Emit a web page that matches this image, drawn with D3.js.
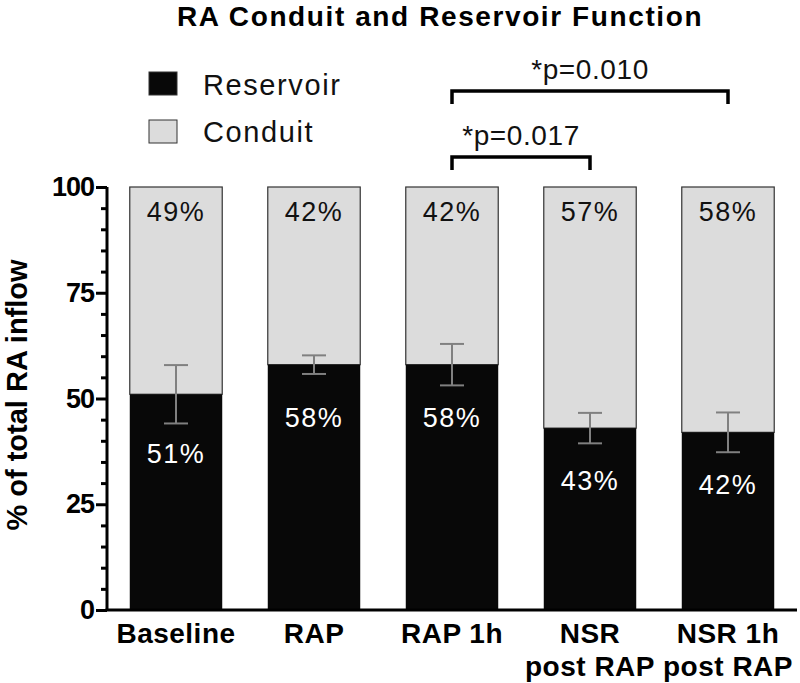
<!DOCTYPE html>
<html>
<head>
<meta charset="utf-8">
<title>RA Conduit and Reservoir Function</title>
<script src="https://d3js.org/d3.v7.min.js"></script>
<style>
  body { margin: 0; background: #fff; }
  text { font-family: "Liberation Sans", Arial, sans-serif; }
</style>
</head>
<body>
<div id="chart"></div>
<script>
  // data
  let groups = [["Baseline"], ["RAP"], ["RAP 1h"], ["NSR", "post RAP"], ["NSR 1h", "post RAP"]];
  let reservoir = [51, 58, 58, 43, 42];
  let conduit = [49, 42, 42, 57, 58];
  let reservoirErr = [6.9, 2.2, 4.9, 3.6, 4.7];
  let yTicks = [0, 25, 50, 75, 100];
  let comparisons = [
    {from: 2, to: 4, label: "*p=0.010", level: 122.7},
    {from: 2, to: 3, label: "*p=0.017", level: 107.1}
  ];

  let svgw = 800, svgh = 683;
  let margin = {top: 187, bottom: 73, left: 107, right: 3};

  let svg = d3.select("#chart").append("svg")
    .attr("width", svgw)
    .attr("height", svgh);

  let x = d3.scaleBand()
    .domain(d3.range(groups.length))
    .range([margin.left, svgw - margin.right])
    .paddingInner(0.33)
    .paddingOuter(0.165);

  let y = d3.scaleLinear()
    .domain([0, 100])
    .range([svgh - margin.bottom, margin.top]);

  let rows = reservoir.map((r, i) => ({i, r, c: conduit[i], e: reservoirErr[i]}));

  // conduit (top part)
  svg.append("g").selectAll("rect")
    .data(rows).enter().append("rect")
    .attr("x", d => x(d.i))
    .attr("width", x.bandwidth())
    .attr("y", d => y(d.r + d.c))
    .attr("height", d => y(d.r) - y(d.r + d.c))
    .attr("fill", "#dcdcdc")
    .attr("stroke", "#333")
    .attr("stroke-width", 1.2);

  // reservoir (bottom part)
  svg.append("g").selectAll("rect")
    .data(rows).enter().append("rect")
    .attr("x", d => x(d.i))
    .attr("width", x.bandwidth())
    .attr("y", d => y(d.r))
    .attr("height", d => y(0) - y(d.r))
    .attr("fill", "#080808");

  // error bars
  let eb = svg.append("g").attr("stroke", "#808080").attr("stroke-width", 2);
  rows.forEach(d => {
    let cx = x(d.i) + x.bandwidth() / 2;
    eb.append("line").attr("x1", cx).attr("x2", cx).attr("y1", y(d.r + d.e)).attr("y2", y(d.r - d.e));
    eb.append("line").attr("x1", cx - 12).attr("x2", cx + 12).attr("y1", y(d.r + d.e)).attr("y2", y(d.r + d.e));
    eb.append("line").attr("x1", cx - 12).attr("x2", cx + 12).attr("y1", y(d.r - d.e)).attr("y2", y(d.r - d.e));
  });

  // percent labels
  svg.append("g").selectAll("text")
    .data(rows).enter().append("text")
    .attr("x", d => x(d.i) + x.bandwidth() / 2)
    .attr("y", d => y(d.r + d.c) + 34)
    .attr("text-anchor", "middle")
    .attr("font-size", 27)
    .attr("letter-spacing", 1.5)
    .attr("fill", "#111")
    .text(d => d.c + "%");

  svg.append("g").selectAll("text")
    .data(rows).enter().append("text")
    .attr("x", d => x(d.i) + x.bandwidth() / 2)
    .attr("y", d => Math.max(y(d.r - d.e) + 40, y(d.r) + 62))
    .attr("text-anchor", "middle")
    .attr("font-size", 27)
    .attr("letter-spacing", 1.5)
    .attr("fill", "#fff")
    .text(d => d.r + "%");

  // y axis
  let yAxis = svg.append("g")
    .attr("transform", `translate(${margin.left},0)`)
    .call(d3.axisLeft(y).tickValues(yTicks).tickSize(11).tickPadding(2));
  yAxis.select(".domain").attr("stroke-width", 3).attr("d", `M0,${y(0)}V${y(100)}`);
  yAxis.selectAll(".tick line").attr("stroke-width", 3);
  yAxis.selectAll(".tick text")
    .attr("font-size", 27)
    .attr("font-weight", "bold")
    .attr("letter-spacing", -1)
    .attr("font-family", "Liberation Sans, Arial, sans-serif")
    .attr("fill", "#000");

  svg.append("g")
    .attr("transform", `translate(${margin.left},0)`)
    .call(d3.axisLeft(y).tickValues(d3.range(0, 101, 5).filter(v => v % 25)).tickSize(6).tickFormat(""))
    .call(g => g.select(".domain").remove())
    .selectAll(".tick line").attr("stroke-width", 3);

  // x axis
  let xAxis = svg.append("g")
    .attr("transform", `translate(0,${y(0)})`)
    .call(d3.axisBottom(x).tickSize(0).tickFormat(""));
  xAxis.select(".domain").attr("stroke-width", 3).attr("d", `M${margin.left - 1.5},0H${svgw - margin.right}`);

  svg.append("g").selectAll("text")
    .data(rows).enter().append("text")
    .attr("x", d => x(d.i) + x.bandwidth() / 2)
    .attr("y", y(0) + 33)
    .attr("text-anchor", "middle")
    .attr("font-size", 28)
    .attr("font-weight", "bold")
    .attr("letter-spacing", 0.5)
    .selectAll("tspan")
    .data(d => groups[d.i])
    .enter().append("tspan")
    .attr("x", function () { return d3.select(this.parentNode).attr("x"); })
    .attr("dy", (t, k) => k === 0 ? 0 : 33)
    .text(t => t);

  // y label
  svg.append("text")
    .attr("transform", `translate(27,395) rotate(-90)`)
    .attr("text-anchor", "middle")
    .attr("font-size", 29)
    .attr("font-weight", "bold")
    .text("% of total RA inflow");

  // title
  svg.append("text")
    .attr("x", 440)
    .attr("y", 26)
    .attr("text-anchor", "middle")
    .attr("font-size", 28)
    .attr("font-weight", "bold")
    .attr("letter-spacing", 1.6)
    .text("RA Conduit and Reservoir Function");

  // legend
  let legend = [
    {name: "Reservoir", fill: "#080808"},
    {name: "Conduit", fill: "#dcdcdc"}
  ];
  let lg = svg.append("g").attr("transform", "translate(149,72)");
  legend.forEach((l, k) => {
    lg.append("rect").attr("x", 0).attr("y", k * 48).attr("width", 28).attr("height", 23)
      .attr("fill", l.fill).attr("stroke", "#333").attr("stroke-width", 1);
    lg.append("text").attr("x", 54).attr("y", k * 47 + 23).attr("font-size", 29)
      .attr("letter-spacing", 1.6).attr("fill", "#111").text(l.name);
  });

  // significance brackets
  let br = svg.append("g");
  comparisons.forEach(c => {
    let x1 = x(c.from) + x.bandwidth() / 2;
    let x2 = x(c.to) + x.bandwidth() / 2;
    let yy = y(c.level);
    br.append("path")
      .attr("d", `M${x1},${yy + 13}V${yy}H${x2}V${yy + 13}`)
      .attr("fill", "none")
      .attr("stroke", "#000")
      .attr("stroke-width", 3.5);
    br.append("text")
      .attr("x", (x1 + x2) / 2)
      .attr("y", yy - 12)
      .attr("text-anchor", "middle")
      .attr("font-size", 28)
      .attr("letter-spacing", 0.6)
      .attr("fill", "#111")
      .text(c.label);
  });
</script>
</body>
</html>
